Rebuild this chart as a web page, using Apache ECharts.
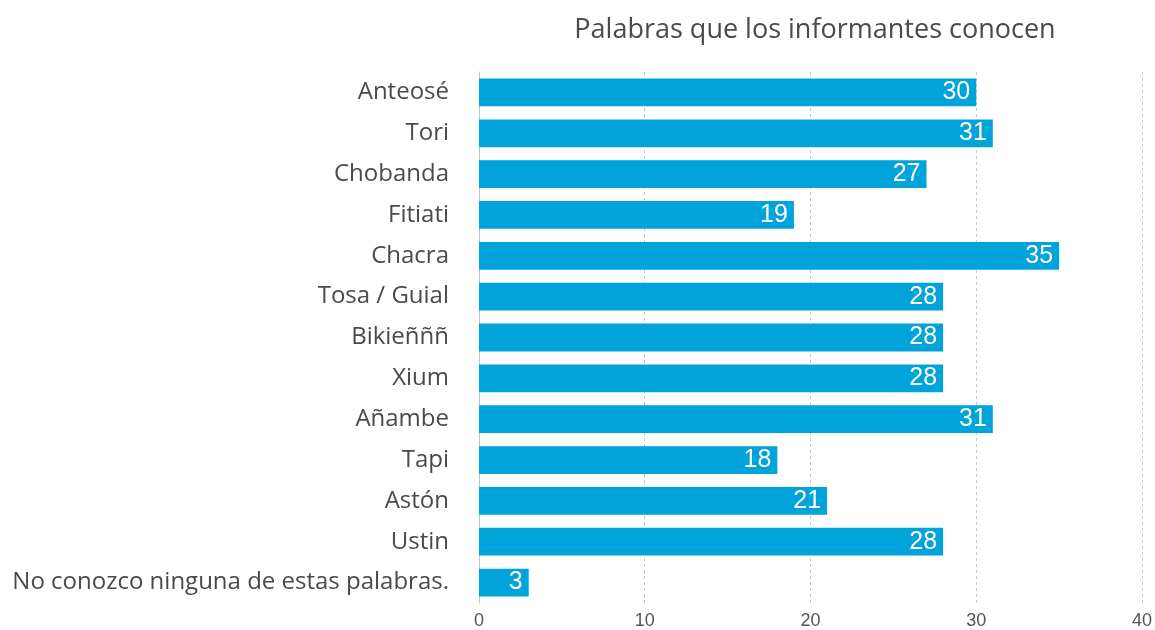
<!DOCTYPE html>
<html>
<head>
<meta charset="utf-8">
<script src="https://cdn.jsdelivr.net/npm/echarts@6/dist/echarts.min.js"></script>
<style>
  html, body { margin: 0; padding: 0; background: #fff; }
  #chart { width: 1155px; height: 630px; }
</style>
</head>
<body>
<div id="chart"></div>
<script>
// Data
var categories = [
    'Anteosé', 'Tori', 'Chobanda', 'Fitiati', 'Chacra', 'Tosa / Guial',
    'Bikieñññ', 'Xium', 'Añambe', 'Tapi', 'Astón', 'Ustin',
    'No conozco ninguna de estas palabras.'
];
var values = [30, 31, 27, 19, 35, 28, 28, 28, 31, 18, 21, 28, 3];
var xTicks = [0, 10, 20, 30, 40];

var chart = echarts.init(document.getElementById('chart'));

var options = {
    textStyle: {
        fontFamily: '"Open Sans", sans-serif'
    },
    title: {
        text: 'Palabras que los informantes conocen',
        left: 810,
        textAlign: 'center',
        top: 12,
        textStyle: {
            fontSize: 27,
            fontWeight: 'normal',
            color: '#4a4a4a',
            fontFamily: '"Open Sans", sans-serif'
        }
    },
    grid: {
        left: 479,
        right: 9,
        top: 72,
        bottom: 25,
        containLabel: false
    },
    xAxis: {
        type: 'value',
        min: xTicks[0],
        max: xTicks[xTicks.length - 1],
        interval: 10,
        axisLine: { show: false },
        axisTick: { show: false },
        axisLabel: {
            color: '#555',
            fontSize: 18,
            fontFamily: 'Liberation Sans, Arial, sans-serif',
            margin: 9
        },
        splitLine: {
            show: true,
            lineStyle: {
                color: '#c8c8c8',
                type: [3, 3],
                width: 1
            }
        }
    },
    yAxis: {
        type: 'category',
        data: categories,
        inverse: true,
        axisLine: {
            show: true,
            lineStyle: { color: '#c4c4c4', width: 1 }
        },
        axisTick: { show: false },
        axisLabel: {
            color: '#4a4a4a',
            fontSize: 24,
            margin: 30
        }
    },
    series: [
        {
            type: 'bar',
            data: values,
            barCategoryGap: '32%',
            itemStyle: {
                color: '#00a3da'
            },
            label: {
                show: true,
                position: 'insideRight',
                distance: 6,
                color: '#fff',
                fontSize: 25,
                fontFamily: 'Liberation Sans, Arial, sans-serif',
                fontWeight: 'normal'
            },
            silent: true
        }
    ]
};

chart.setOption(options);

window.addEventListener('resize', function () {
    chart.resize();
});
</script>
</body>
</html>
